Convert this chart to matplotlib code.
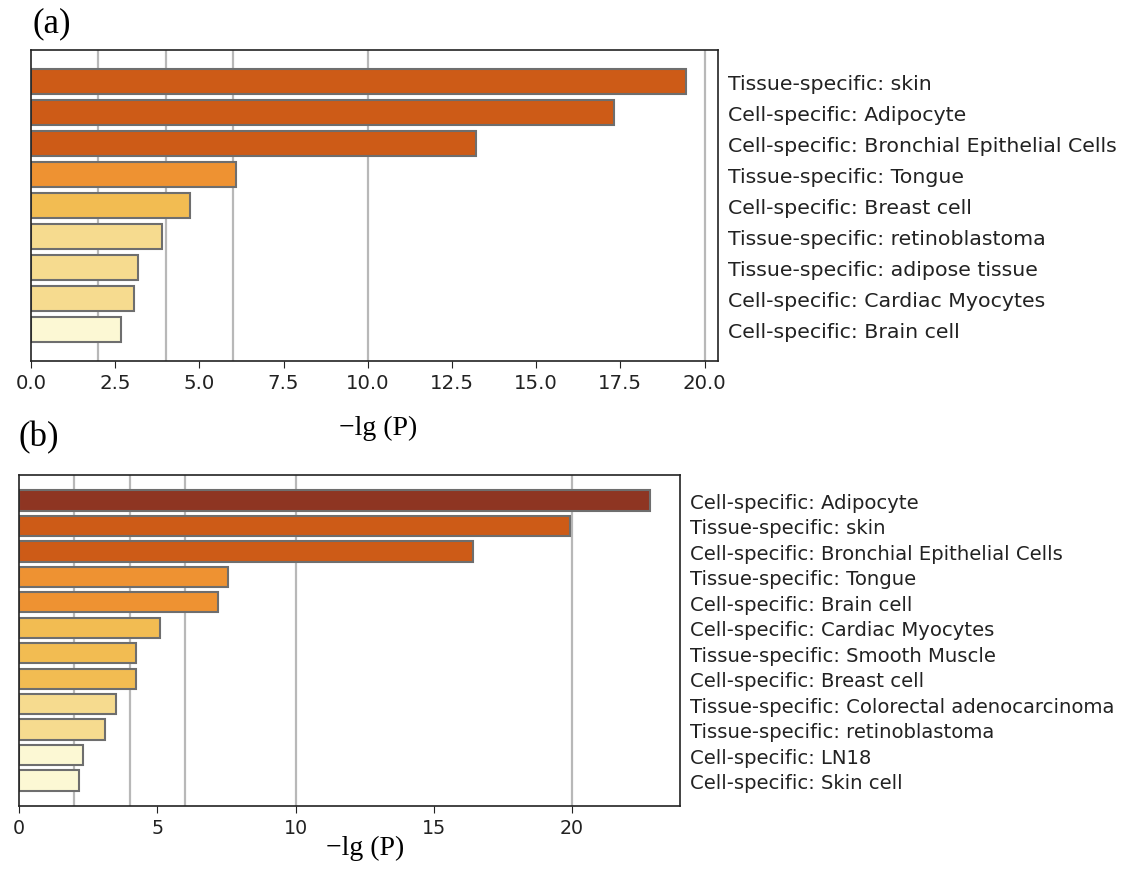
import matplotlib
matplotlib.use("Agg")
import matplotlib.pyplot as plt
import numpy as np

plt.rcParams['font.family'] = ['DejaVu Sans']

# panel (a)
terms_a = ['Tissue-specific: skin', 'Cell-specific: Adipocyte',
           'Cell-specific: Bronchial Epithelial Cells', 'Tissue-specific: Tongue',
           'Cell-specific: Breast cell', 'Tissue-specific: retinoblastoma',
           'Tissue-specific: adipose tissue', 'Cell-specific: Cardiac Myocytes',
           'Cell-specific: Brain cell']
values_a = [19.45, 17.3, 13.22, 6.1, 4.73, 3.9, 3.19, 3.07, 2.68]

# panel (b)
terms_b = ['Cell-specific: Adipocyte', 'Tissue-specific: skin',
           'Cell-specific: Bronchial Epithelial Cells', 'Tissue-specific: Tongue',
           'Cell-specific: Brain cell', 'Cell-specific: Cardiac Myocytes',
           'Tissue-specific: Smooth Muscle', 'Cell-specific: Breast cell',
           'Tissue-specific: Colorectal adenocarcinoma', 'Tissue-specific: retinoblastoma',
           'Cell-specific: LN18', 'Cell-specific: Skin cell']
values_b = [22.8, 19.94, 16.43, 7.57, 7.21, 5.11, 4.23, 4.22, 3.52, 3.1, 2.33, 2.17]

# colour classes (metascape style)
DARKRED = '#8E3522'
DARKORANGE = '#CD5B17'
ORANGE = '#EE9232'
GOLD = '#F2BC52'
LIGHT = '#F6DB8F'
PALE = '#FCF8D4'
colors_a = [DARKORANGE] * 3 + [ORANGE, GOLD] + [LIGHT] * 3 + [PALE]
colors_b = [DARKRED] + [DARKORANGE] * 2 + [ORANGE] * 2 + [GOLD] * 3 + [LIGHT] * 2 + [PALE] * 2

grid_lines = [2, 4, 6, 10, 20]


def draw_panel(ax, terms, values, colors, xmax, label_size, xlabel_pos):
    y = np.arange(len(terms))
    for g in grid_lines:
        ax.axvline(g, color='#b8b8b8', lw=1.6, zorder=0)
    ax.barh(y, values, height=0.8, color=colors, edgecolor='#6e6e6e',
            linewidth=1.5, zorder=2)
    ax.set_ylim(len(terms), -1)
    ax.set_xlim(0, xmax)
    ax.yaxis.tick_right()
    ax.set_yticks(y)
    ax.set_yticklabels(terms, fontsize=label_size, color='#222222')
    ax.tick_params(axis='y', length=0, pad=7)
    ax.tick_params(axis='x', labelsize=label_size - 0.5, colors='#222222', length=5)
    for s in ax.spines.values():
        s.set_linewidth(1.2)
        s.set_color('#222222')
    ax.set_xlabel('\u2212lg (P)', family='Liberation Serif', fontsize=20, color='black')
    ax.xaxis.set_label_coords(*xlabel_pos)
    ax.xaxis.label.set_va('center')


fig = plt.figure(figsize=(11.26, 8.70), dpi=100)

ax_a = fig.add_axes([31 / 1126, 1 - 362 / 870, 687 / 1126, 311 / 870])
draw_panel(ax_a, terms_a, values_a, colors_a, 20.4, 14.75, (0.506, -0.212))

ax_b = fig.add_axes([19 / 1126, 1 - 807 / 870, 661 / 1126, 331 / 870])
draw_panel(ax_b, terms_b, values_b, colors_b, 23.9, 14.15, (0.523, -0.124))

fig.text(33 / 1126, 1 - 24 / 870, '(a)', family='Liberation Serif', fontsize=25,
         ha='left', va='center')
fig.text(18 / 1126, 1 - 438 / 870, '(b)', family='Liberation Serif', fontsize=25,
         ha='left', va='center')

fig.savefig('out.png', dpi=100)
